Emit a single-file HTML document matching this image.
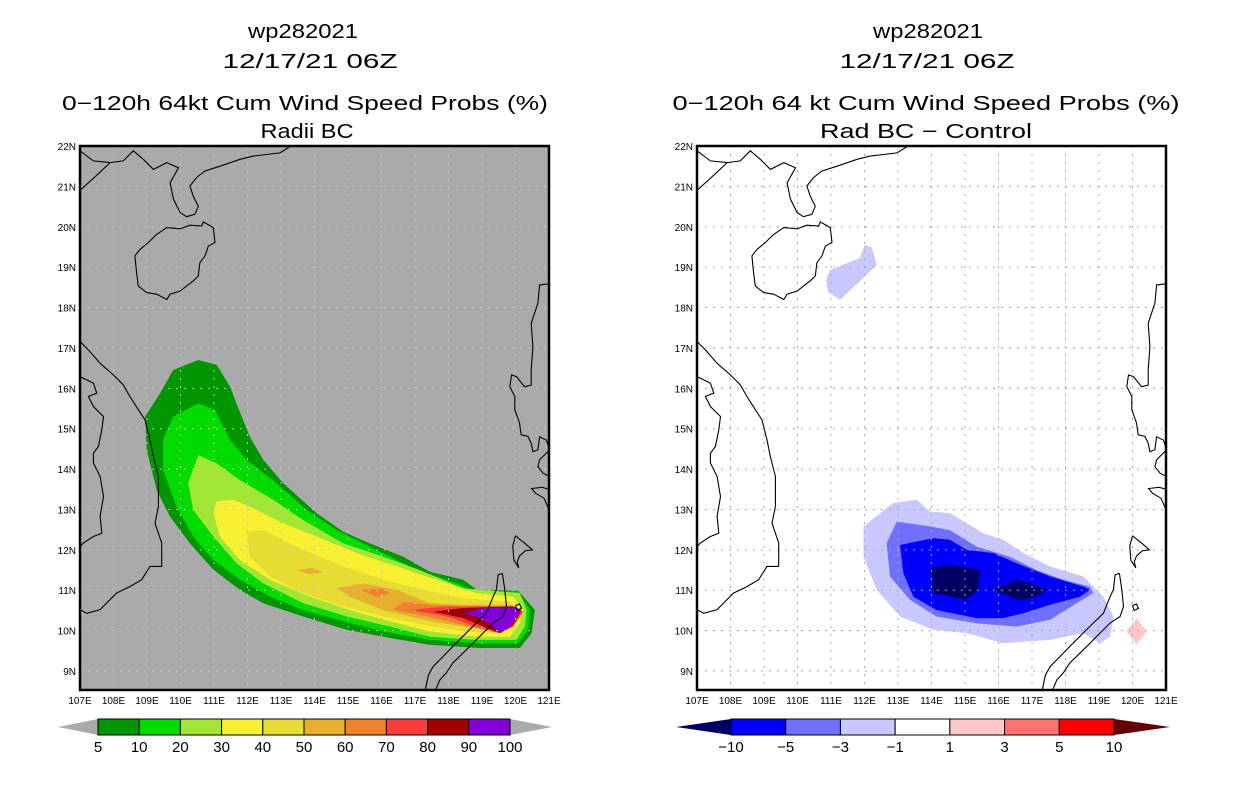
<!DOCTYPE html>
<html><head><meta charset="utf-8"><style>
html,body{margin:0;padding:0;background:#fff;}
svg{display:block;font-family:"Liberation Sans",sans-serif;}
</style></head><body>
<svg id="chart" width="1236" height="800" viewBox="0 0 1236 800" xmlns="http://www.w3.org/2000/svg">
<g font-size="20" text-anchor="middle" fill="#000">
<text x="303" y="38" textLength="110" lengthAdjust="spacingAndGlyphs">wp282021</text>
<text x="310" y="68" textLength="175" lengthAdjust="spacingAndGlyphs">12/17/21 06Z</text>
<text x="305" y="110" textLength="486" lengthAdjust="spacingAndGlyphs">0−120h 64kt Cum Wind Speed Probs (%)</text>
<text x="307" y="138" textLength="93" lengthAdjust="spacingAndGlyphs">Radii BC</text>
</g>
<g font-size="20" text-anchor="middle" fill="#000">
<text x="928" y="38" textLength="110" lengthAdjust="spacingAndGlyphs">wp282021</text>
<text x="927" y="68" textLength="175" lengthAdjust="spacingAndGlyphs">12/17/21 06Z</text>
<text x="926" y="110" textLength="507" lengthAdjust="spacingAndGlyphs">0−120h 64 kt Cum Wind Speed Probs (%)</text>
<text x="926" y="138" textLength="212" lengthAdjust="spacingAndGlyphs">Rad BC − Control</text>
</g>
<g id="leftMap"></g>
<g id="rightMap"></g>
<g id="leftBar"></g>
<g id="rightBar"></g>
</svg>
<script>
// ---- data ----
const lonTicks = [107,108,109,110,111,112,113,114,115,116,117,118,119,120,121];
const latTicks = [9,10,11,12,13,14,15,16,17,18,19,20,21,22];
const probLevels = [5,10,20,30,40,50,60,70,80,90];
const probColors = ['#009600','#00dc00','#a0e632','#faf032','#e6dc32','#e6af2d','#f0822d','#fa3c3c','#a00000','#8200dc'];
const probLabels = ['5','10','20','30','40','50','60','70','80','90','100'];
const diffColors = ['#0000ff','#7070ff','#c8c8ff','#ffffff','#ffc8c8','#ff7070','#ff0000'];
const diffLabels = ['−10','−5','−3','−1','1','3','5','10'];

const prob5 = [[110.53,16.70],[111.08,16.58],[111.48,16.04],[111.67,15.63],[112.07,14.80],[112.47,14.23],[113.07,13.65],[114.06,12.91],[114.86,12.45],[115.65,12.16],[116.65,11.83],[117.44,11.46],[118.44,11.26],[118.84,11.01],[120.08,10.99],[120.58,10.51],[120.48,9.94],[120.13,9.57],[118.94,9.57],[117.44,9.65],[116.05,9.85],[114.96,10.02],[113.66,10.35],[112.47,10.68],[111.77,11.01],[110.98,11.51],[110.28,12.16],[109.68,12.83],[109.29,13.48],[108.99,14.48],[108.94,15.30],[109.39,15.88],[109.78,16.45]];
const prob10 = [[110.53,15.63],[111.03,15.46],[111.48,14.72],[111.97,14.23],[112.87,13.65],[113.76,12.99],[114.66,12.49],[115.85,12.00],[117.05,11.50],[118.24,11.17],[118.84,10.97],[120.08,10.97],[120.43,10.51],[120.38,10.02],[120.08,9.69],[118.84,9.69],[117.44,9.77],[116.05,9.98],[114.86,10.23],[113.66,10.51],[112.67,10.84],[111.77,11.26],[110.98,11.75],[110.38,12.33],[109.88,13.07],[109.48,13.98],[109.48,14.72],[109.78,15.30]];
const prob20 = [[110.53,14.35],[111.08,14.14],[111.77,13.73],[112.77,13.24],[113.66,12.74],[114.86,12.16],[116.05,11.83],[117.15,11.50],[118.44,11.05],[120.13,10.93],[120.33,10.51],[120.28,10.10],[120.03,9.77],[118.84,9.77],[117.44,9.85],[116.25,10.10],[114.96,10.35],[113.66,10.68],[112.47,11.17],[111.67,11.67],[110.98,12.33],[110.38,12.99],[110.23,13.65]];
const prob30 = [[111.08,13.20],[111.58,13.24],[112.07,13.07],[113.07,12.66],[114.06,12.33],[115.26,11.92],[116.45,11.59],[117.64,11.26],[118.84,10.93],[119.93,10.84],[120.23,10.51],[120.13,10.18],[119.83,9.85],[118.84,9.85],[117.44,9.98],[116.25,10.23],[115.06,10.51],[113.86,10.84],[112.67,11.26],[111.77,11.75],[111.18,12.33],[110.98,12.91]];
const prob40 = [[111.97,12.45],[112.47,12.49],[113.66,12.00],[114.86,11.59],[116.05,11.26],[117.25,11.01],[118.44,10.80],[119.83,10.72],[120.08,10.47],[119.93,10.10],[119.63,9.94],[118.44,9.98],[117.25,10.14],[116.05,10.35],[114.86,10.60],[113.66,10.93],[112.67,11.34],[112.07,11.84]];
const prob50a = [[114.66,11.05],[115.46,11.17],[116.45,11.01],[117.44,10.68],[118.44,10.64],[119.93,10.64],[119.93,10.10],[119.43,9.98],[118.44,10.10],[117.25,10.27],[116.05,10.51],[115.06,10.84]];
const prob50b = [[113.47,11.49],[113.91,11.55],[114.26,11.46],[113.86,11.40]];
const prob60a = [[116.35,10.51],[116.65,10.72],[117.44,10.64],[118.44,10.60],[119.93,10.60],[119.83,10.10],[119.43,9.95],[118.44,10.14],[117.25,10.37]];
const prob60b = [[115.36,11.01],[116.05,11.05],[116.25,10.93],[115.85,10.84]];
const prob70 = [[116.85,10.51],[117.94,10.60],[118.94,10.60],[119.93,10.60],[120.23,10.47],[119.93,10.10],[119.53,9.94],[118.84,10.10],[117.94,10.35]];
const prob80 = [[117.54,10.47],[118.44,10.56],[119.93,10.60],[120.18,10.51],[119.93,10.14],[119.53,9.94],[119.04,10.10],[118.44,10.31]];
const prob90 = [[118.44,10.43],[119.04,10.56],[120.03,10.56],[120.13,10.47],[119.83,10.10],[119.53,9.94],[119.23,10.18],[118.84,10.35]];

const diffM1 = [[112.86,13.16],[113.56,13.24],[113.95,12.95],[114.55,12.91],[115.05,12.66],[115.55,12.41],[116.14,12.25],[116.74,11.92],[117.54,11.59],[118.53,11.34],[119.13,10.84],[119.43,10.35],[119.33,9.85],[119.03,9.69],[118.53,9.94],[117.54,9.77],[116.14,9.69],[115.05,9.94],[114.05,10.02],[113.06,10.35],[112.36,11.01],[111.97,11.83],[111.97,12.58]];
const diffM1b = [[110.85,18.68],[110.97,18.93],[111.87,19.23],[112.01,19.55],[112.22,19.48],[112.37,19.05],[111.27,18.19],[110.91,18.39]];
const diffM3 = [[112.96,12.70],[113.95,12.58],[114.55,12.49],[115.35,12.08],[116.34,11.83],[117.14,11.50],[117.94,11.26],[118.73,11.09],[118.83,10.93],[118.33,10.68],[117.54,10.27],[116.54,10.10],[115.35,10.18],[114.15,10.35],[113.36,10.76],[112.76,11.34],[112.66,12.16]];
const diffM5 = [[113.06,12.12],[114.05,12.29],[114.55,12.25],[115.05,12.00],[115.85,11.92],[116.54,11.67],[117.54,11.34],[118.53,11.09],[118.73,11.01],[118.43,10.84],[117.54,10.64],[116.74,10.43],[116.14,10.31],[115.35,10.31],[114.15,10.51],[113.46,10.84],[113.16,11.42]];
const diffM10a = [[114.0,11.55],[114.55,11.63],[115.45,11.50],[115.40,11.01],[115.05,10.76],[114.05,10.93]];
const diffM10b = [[115.85,11.01],[116.59,11.26],[117.44,11.01],[117.14,10.84],[116.64,10.74]];
const diffP1 = [[120.12,10.31],[120.42,9.98],[120.12,9.65],[119.82,9.98]];

const coastChina = [[107.0,20.9],[107.4,21.2],[107.9,21.59],[108.29,21.63],[108.59,21.88],[108.89,21.67],[109.19,21.42],[109.59,21.59],[109.94,21.46],[109.69,21.09],[109.79,20.68],[109.99,20.35],[110.18,20.25],[110.43,20.31],[110.53,20.51],[110.38,20.76],[110.28,21.01],[110.48,21.22],[110.73,21.38],[111.18,21.50],[111.78,21.67],[112.17,21.75],[112.57,21.79],[112.97,21.83],[113.3,22.0]];
const coastChina2 = [[107.0,21.88],[107.4,21.63],[107.9,21.59]];
const coastHainan = [[109.29,19.81],[109.59,19.98],[109.99,19.95],[110.28,20.04],[110.63,20.02],[110.68,20.12],[110.98,19.98],[111.03,19.61],[110.83,19.52],[110.73,19.28],[110.58,19.11],[110.53,18.78],[110.38,18.66],[110.18,18.53],[109.99,18.41],[109.69,18.33],[109.59,18.20],[109.29,18.33],[108.99,18.37],[108.74,18.53],[108.69,18.86],[108.64,19.28],[108.79,19.44],[109.04,19.61],[109.29,19.81]];
const coastVietnam = [[107.0,17.16],[107.30,16.91],[107.60,16.62],[108.0,16.33],[108.29,16.09],[108.49,15.80],[108.74,15.47],[108.94,15.22],[109.09,14.72],[109.19,14.31],[109.34,13.82],[109.34,13.07],[109.24,12.66],[109.44,12.17],[109.44,11.59],[109.09,11.59],[108.84,11.26],[108.49,11.09],[108.09,10.93],[107.60,10.52],[107.20,10.43],[107.0,10.52]];
const borderLaos = [[107,16.29],[107.40,16.13],[107.50,15.88],[107.25,15.80],[107.40,15.55],[107.70,15.30],[107.65,14.97],[107.55,14.56],[107.40,14.39],[107.40,14.15],[107.60,13.82],[107.70,13.32],[107.60,12.83],[107.65,12.41],[107.40,12.33],[107.10,12.17],[107.0,12.08]];
const coastLuzon = [[121.12,18.60],[120.72,18.56],[120.67,18.11],[120.47,17.61],[120.52,17.03],[120.47,16.46],[120.47,16.08],[120.27,16.04],[120.03,16.29],[119.88,16.33],[119.83,16.04],[119.98,15.80],[119.98,15.47],[120.12,15.14],[120.17,14.85],[120.37,14.81],[120.47,14.64],[120.52,14.43],[120.67,14.48],[120.72,14.80],[120.92,14.72],[121.02,14.48],[120.72,14.23],[120.67,14.06],[120.82,13.90],[121.0,13.82]];
const coastLuzon2 = [[121.0,13.5],[120.8,13.55],[120.48,13.52],[120.6,13.4],[120.85,13.28],[121.0,13.0]];
const coastMindoro = [[120.0,12.35],[120.1,12.28],[120.3,12.15],[120.5,12.0],[120.3,11.98],[120.12,11.85],[120.05,11.7],[120.1,11.55],[119.95,11.75],[119.92,12.1],[120.0,12.35]];
const coastPalawanE = [[119.61,11.42],[119.68,11.01],[119.73,10.60],[119.63,10.35],[119.33,10.19],[119.03,9.94],[118.73,9.69],[118.43,9.44],[118.13,9.20],[117.93,8.95],[117.74,8.78],[117.6,8.5]];
const coastPalawanW = [[119.61,11.42],[119.48,11.38],[119.43,11.01],[119.33,10.84],[119.13,10.43],[118.83,10.19],[118.43,9.86],[118.13,9.61],[117.84,9.36],[117.54,9.11],[117.4,8.9],[117.3,8.5]];
const coastIsle = [[120.0,10.62],[120.12,10.66],[120.18,10.55],[120.05,10.5],[120.0,10.62]];

// ---- helpers ----
const NS = 'http://www.w3.org/2000/svg';
const LON0 = 107, LON1 = 121, LAT0 = 8.53, LAT1 = 22;
function mk(tag, parent){ const e = document.createElementNS(NS, tag); parent.appendChild(e); return e; }
function makeAxes(x0, y0, w, h){
  return { x: lon => x0 + (lon - LON0) / (LON1 - LON0) * w,
           y: lat => y0 + (LAT1 - lat) / (LAT1 - LAT0) * h, x0, y0, w, h };
}
function pathD(ax, pts, close){
  return pts.map((p,i)=>(i?'L':'M')+ax.x(p[0]).toFixed(1)+','+ax.y(p[1]).toFixed(1)).join('')+(close?'Z':'');
}
function drawMap(g, ax, bg, fills, gridColor){
  const clipId = 'clip' + Math.round(ax.x0);
  const cp = mk('clipPath', g); cp.setAttribute('id', clipId);
  const cr = mk('rect', cp); cr.setAttribute('x', ax.x0); cr.setAttribute('y', ax.y0); cr.setAttribute('width', ax.w); cr.setAttribute('height', ax.h);
  const bgr = mk('rect', g);
  
  
  bgr.setAttribute('x', ax.x0); bgr.setAttribute('y', ax.y0); bgr.setAttribute('width', ax.w); bgr.setAttribute('height', ax.h); bgr.setAttribute('fill', bg);
  const inner = mk('g', g); inner.setAttribute('clip-path', 'url(#'+clipId+')');
  fills.forEach(f => {
    const p = mk('path', inner);
    
    
    p.setAttribute('d', pathD(ax, f.pts, true)); p.setAttribute('fill', f.color);
  });
  lonTicks.forEach(l => { if (l===LON0||l===LON1) return;
    const ln = mk('line', inner);
    
    
    ln.setAttribute('x1', ax.x(l)); ln.setAttribute('x2', ax.x(l)); ln.setAttribute('y1', ax.y0); ln.setAttribute('y2', ax.y0+ax.h);
    ln.setAttribute('stroke', gridColor); ln.setAttribute('stroke-dasharray', '2,6'); });
  latTicks.forEach(l => { if (l===LAT1) return;
    const ln = mk('line', inner);
    
    
    ln.setAttribute('y1', ax.y(l)); ln.setAttribute('y2', ax.y(l)); ln.setAttribute('x1', ax.x0); ln.setAttribute('x2', ax.x0+ax.w);
    ln.setAttribute('stroke', gridColor); ln.setAttribute('stroke-dasharray', '2,6'); });
  [coastChina, coastChina2, coastHainan, coastVietnam, borderLaos, coastLuzon, coastLuzon2, coastMindoro, coastPalawanE, coastPalawanW, coastIsle].forEach(c => {
    const p = mk('path', inner);
    
    
    p.setAttribute('d', pathD(ax, c, false)); p.setAttribute('fill', 'none'); p.setAttribute('stroke', '#000'); p.setAttribute('stroke-width', '1.1');
  });
  const fr = mk('rect', g);
  
  
  fr.setAttribute('x', ax.x0); fr.setAttribute('y', ax.y0); fr.setAttribute('width', ax.w); fr.setAttribute('height', ax.h);
  fr.setAttribute('fill', 'none'); fr.setAttribute('stroke', '#000'); fr.setAttribute('stroke-width', '2.5');
  lonTicks.forEach(l => {
    const t = mk('text', g);
    
    
    t.setAttribute('x', ax.x(l)); t.setAttribute('y', ax.y0+ax.h+14); t.setAttribute('font-size', '10'); t.setAttribute('text-anchor', 'middle');
    t.textContent = l + 'E';
  });
  latTicks.forEach(l => {
    const t = mk('text', g);
    
    
    t.setAttribute('x', ax.x0-4); t.setAttribute('y', ax.y(l)+4); t.setAttribute('font-size', '10'); t.setAttribute('text-anchor', 'end');
    t.textContent = l + 'N';
  });
}
function drawBar(g, tipL, x0, x1, tipR, y0, h, colors, labels, lcol, rcol){
  const n = colors.length, bw = (x1-x0)/n, ym = y0+h/2;
  const tl = mk('polygon', g);
  
  
  tl.setAttribute('points', `${tipL},${ym} ${x0},${y0} ${x0},${y0+h}`); tl.setAttribute('fill', lcol);
  const tr = mk('polygon', g);
  
  
  tr.setAttribute('points', `${tipR},${ym} ${x1},${y0} ${x1},${y0+h}`); tr.setAttribute('fill', rcol);
  colors.forEach((c,i) => {
    const r = mk('rect', g);
    
    
    r.setAttribute('x', x0+i*bw); r.setAttribute('y', y0); r.setAttribute('width', bw); r.setAttribute('height', h);
    r.setAttribute('fill', c); r.setAttribute('stroke', '#000'); r.setAttribute('stroke-width', '1');
  });
  labels.forEach((s,i) => {
    const t = mk('text', g);
    
    
    t.setAttribute('x', x0+i*bw); t.setAttribute('y', y0+h+17); t.setAttribute('font-size', '15'); t.setAttribute('text-anchor', 'middle');
    t.textContent = s;
  });
}

const axL = makeAxes(80, 146, 469, 544);
const axR = makeAxes(697, 146, 469, 544);
drawMap(document.getElementById('leftMap'), axL, '#aaaaaa', [
  {name:'prob-5', pts:prob5, color:probColors[0]},
  {name:'prob-10', pts:prob10, color:probColors[1]},
  {name:'prob-20', pts:prob20, color:probColors[2]},
  {name:'prob-30', pts:prob30, color:probColors[3]},
  {name:'prob-40', pts:prob40, color:probColors[4]},
  {name:'prob-50', pts:prob50a, color:probColors[5]},
  {name:'prob-50-blob', pts:prob50b, color:probColors[5]},
  {name:'prob-60', pts:prob60a, color:probColors[6]},
  {name:'prob-60-blob', pts:prob60b, color:probColors[6]},
  {name:'prob-70', pts:prob70, color:probColors[7]},
  {name:'prob-80', pts:prob80, color:probColors[8]},
  {name:'prob-90', pts:prob90, color:probColors[9]}
], '#c4c4c4');
drawMap(document.getElementById('rightMap'), axR, '#ffffff', [
  {name:'diff-minus1', pts:diffM1, color:diffColors[2]},
  {name:'diff-minus1-north', pts:diffM1b, color:diffColors[2]},
  {name:'diff-minus3', pts:diffM3, color:diffColors[1]},
  {name:'diff-minus5', pts:diffM5, color:diffColors[0]},
  {name:'diff-minus10', pts:diffM10a, color:'#000064'},
  {name:'diff-minus10-east', pts:diffM10b, color:'#000064'},
  {name:'diff-plus1', pts:diffP1, color:diffColors[4]}
], '#a8a8a8');
drawBar(document.getElementById('leftBar'), 58, 98, 510, 552, 719, 16, probColors, probLabels, '#aaaaaa', '#aaaaaa');
drawBar(document.getElementById('rightBar'), 676, 731, 1114, 1170, 719, 16, diffColors, diffLabels, '#000064', '#640000');
</script>
</body></html>
